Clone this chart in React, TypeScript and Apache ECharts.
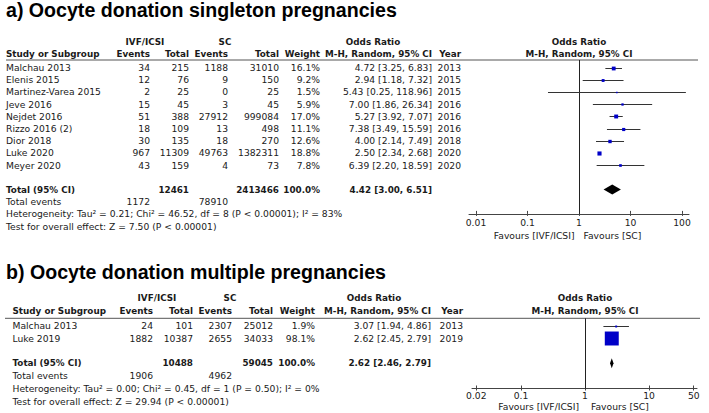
import React, { useEffect, useRef } from "react";
import * as echarts from "echarts";

// ---------- Data: a) singleton pregnancies ----------
const studiesA = ["Malchau 2013", "Elenis 2015", "Martinez-Varea 2015", "Jeve 2016", "Nejdet 2016", "Rizzo 2016 (2)", "Dior 2018", "Luke 2020", "Meyer 2020"];
const ivfEventsA = [34, 12, 2, 15, 51, 18, 30, 967, 43];
const ivfTotalA = [215, 76, 25, 45, 388, 109, 135, 11309, 159];
const scEventsA = [1188, 9, 0, 3, 27912, 13, 18, 49763, 4];
const scTotalA = [31010, 150, 25, 45, 999084, 498, 270, 1382311, 73];
const weightA = [16.1, 9.2, 1.5, 5.9, 17.0, 11.1, 12.6, 18.8, 7.8];
const orA = [4.72, 2.94, 5.43, 7.0, 5.27, 7.38, 4.0, 2.5, 6.39];
const loA = [3.25, 1.18, 0.25, 1.86, 3.92, 3.49, 2.14, 2.34, 2.2];
const hiA = [6.83, 7.32, 118.96, 26.34, 7.07, 15.59, 7.49, 2.68, 18.59];
const yearA = [2013, 2015, 2015, 2016, 2016, 2016, 2018, 2020, 2020];
const totalNA = [12461, 2413466];
const totalEventsA = [1172, 78910];
const pooledA = [4.42, 3.0, 6.51];
const hetA = "Heterogeneity: Tau² = 0.21; Chi² = 46.52, df = 8 (P < 0.00001); I² = 83%";
const testA = "Test for overall effect: Z = 7.50 (P < 0.00001)";
const ticksA = [0.01, 0.1, 1, 10, 100];
const titleA = "a) Oocyte donation singleton pregnancies";

// ---------- Data: b) multiple pregnancies ----------
const studiesB = ["Malchau 2013", "Luke 2019"];
const ivfEventsB = [24, 1882];
const ivfTotalB = [101, 10387];
const scEventsB = [2307, 2655];
const scTotalB = [25012, 34033];
const weightB = [1.9, 98.1];
const orB = [3.07, 2.62];
const loB = [1.94, 2.45];
const hiB = [4.86, 2.79];
const yearB = [2013, 2019];
const totalNB = [10488, 59045];
const totalEventsB = [1906, 4962];
const pooledB = [2.62, 2.46, 2.79];
const hetB = "Heterogeneity: Tau² = 0.00; Chi² = 0.45, df = 1 (P = 0.50); I² = 0%";
const testB = "Test for overall effect: Z = 29.94 (P < 0.00001)";
const ticksB = [0.02, 0.1, 1, 10, 50];
const titleB = "b) Oocyte donation multiple pregnancies";

const groupLabels = ["IVF/ICSI", "SC", "Odds Ratio"];
const colLabels = ["Study or Subgroup", "Events", "Total", "Events", "Total", "Weight", "M-H, Random, 95% CI", "Year"];
const favours = ["Favours [IVF/ICSI]", "Favours [SC]"];

// ---------- Layout (positions / styles only) ----------
const layoutA = {
  titleY: 10,
  head1Y: 42, head2Y: 54, lineY: 60, lineX1: 6, lineX2: 698,
  row0: 67.5, rowH: 12.2, totalRow: 10, eventsRow: 11, hetRow: 12, testRow: 13, axisRow: 12,
  study: 6, ivfE: 150, ivfT: 189, scE: 228, scT: 279, w: 320, or: 432, year: 461,
  ivfHead: 145, scHead: 225, orHead: 373,
  zeroX: 579, decade: 51.5, xMin: -2.136, xMax: 2.136, favY: 235.5, favGap: 4.5,
  sq: 0.95, diamondH: 10, labelMargin: 4,
};
const layoutB = {
  titleY: 272,
  head1Y: 298, head2Y: 311, lineY: 318.3, lineX1: 5, lineX2: 700,
  row0: 325.5, rowH: 12.6, totalRow: 3, eventsRow: 4, hetRow: 5, testRow: 6, axisRow: 5,
  study: 12.5, ivfE: 153, ivfT: 193, scE: 232, scT: 273, w: 315, or: 431, year: 463,
  ivfHead: 157, scHead: 230, orHead: 374,
  zeroX: 585, decade: 64, xMin: -1.766, xMax: 1.75, favY: 406.5, favGap: 6,
  sq: 1.41, diamondH: 10, labelMargin: 2,
};

const FF = '"DejaVu Sans", "Verdana", sans-serif';
const REG = 9.2;
const BOLD = 8.8;
const TXT = "#1a1a1a";
const BLUE = "#0000c8";

function txt(x: number, y: number, text: string, align = "left", bold = false) {
  return {
    type: "text",
    x,
    y,
    silent: true,
    style: {
      text,
      fill: TXT,
      font: `${bold ? "bold " : ""}${bold ? BOLD : REG}px ${FF}`,
      align,
      verticalAlign: "middle",
    },
  };
}

function panelGraphics(L: any, d: any) {
  const els: any[] = [];
  const ry = (r: number) => L.row0 + r * L.rowH;
  els.push({
    type: "text",
    x: 6,
    y: L.titleY,
    silent: true,
    style: { text: d.title, fill: "#000", font: 'bold 19.6px "Liberation Sans", Arial, sans-serif', align: "left", verticalAlign: "middle" },
  });
  // headers
  els.push(txt(L.ivfHead, L.head1Y, groupLabels[0], "center", true));
  els.push(txt(L.scHead, L.head1Y, groupLabels[1], "center", true));
  els.push(txt(L.orHead, L.head1Y, groupLabels[2], "center", true));
  els.push(txt(L.zeroX, L.head1Y, groupLabels[2], "center", true));
  els.push(txt(L.study, L.head2Y, colLabels[0], "left", true));
  els.push(txt(L.ivfE, L.head2Y, colLabels[1], "right", true));
  els.push(txt(L.ivfT, L.head2Y, colLabels[2], "right", true));
  els.push(txt(L.scE, L.head2Y, colLabels[3], "right", true));
  els.push(txt(L.scT, L.head2Y, colLabels[4], "right", true));
  els.push(txt(L.w, L.head2Y, colLabels[5], "right", true));
  els.push(txt(L.or, L.head2Y, colLabels[6], "right", true));
  els.push(txt(L.year, L.head2Y, colLabels[7], "right", true));
  els.push(txt(L.zeroX, L.head2Y, colLabels[6], "center", true));
  els.push({
    type: "line",
    silent: true,
    shape: { x1: L.lineX1, y1: L.lineY, x2: L.lineX2, y2: L.lineY },
    style: { stroke: "#555", lineWidth: 1 },
  });
  // study rows
  d.studies.forEach((s: string, i: number) => {
    const y = ry(i);
    els.push(txt(L.study, y, s, "left"));
    els.push(txt(L.ivfE, y, String(d.ivfE[i]), "right"));
    els.push(txt(L.ivfT, y, String(d.ivfT[i]), "right"));
    els.push(txt(L.scE, y, String(d.scE[i]), "right"));
    els.push(txt(L.scT, y, String(d.scT[i]), "right"));
    els.push(txt(L.w, y, d.w[i].toFixed(1) + "%", "right"));
    els.push(txt(L.or, y, `${d.or[i].toFixed(2)} [${d.lo[i].toFixed(2)}, ${d.hi[i].toFixed(2)}]`, "right"));
    els.push(txt(L.year, y, String(d.year[i]), "right"));
  });
  // totals
  const ty = ry(L.totalRow);
  const wSum = d.w.reduce((a: number, b: number) => a + b, 0);
  els.push(txt(L.study, ty, "Total (95% CI)", "left", true));
  els.push(txt(L.ivfT, ty, String(d.totalN[0]), "right", true));
  els.push(txt(L.scT, ty, String(d.totalN[1]), "right", true));
  els.push(txt(L.w, ty, (Math.round(wSum / 10) * 10).toFixed(1) + "%", "right", true));
  els.push(txt(L.or, ty, `${d.pooled[0].toFixed(2)} [${d.pooled[1].toFixed(2)}, ${d.pooled[2].toFixed(2)}]`, "right", true));
  const ey = ry(L.eventsRow);
  els.push(txt(L.study, ey, "Total events", "left"));
  els.push(txt(L.ivfE, ey, String(d.totalEv[0]), "right"));
  els.push(txt(L.scE, ey, String(d.totalEv[1]), "right"));
  els.push(txt(L.study, ry(L.hetRow), d.het, "left"));
  els.push(txt(L.study, ry(L.testRow), d.test, "left"));
  // favours
  els.push(txt(L.zeroX - L.favGap, L.favY, favours[0], "right"));
  els.push(txt(L.zeroX + L.favGap, L.favY, favours[1], "left"));
  return els;
}

function panelAxes(idx: number, L: any, ticks: number[]) {
  const logT = ticks.map((t) => Math.log10(t));
  const fmt = (v: number) => {
    const i = logT.findIndex((t) => Math.abs(t - v) < 1e-6);
    return i >= 0 ? String(ticks[i]) : "";
  };
  const grid = {
    left: L.zeroX + L.xMin * L.decade,
    width: (L.xMax - L.xMin) * L.decade,
    top: L.row0 - L.rowH,
    height: (L.axisRow + 1) * L.rowH,
    outerBoundsMode: "none",
    containLabel: false,
  };
  const main = {
    type: "value",
    gridIndex: idx,
    min: L.xMin,
    max: L.xMax,
    position: "bottom",
    axisLine: { show: true, onZero: false, lineStyle: { color: "#444", width: 1 } },
    axisTick: { show: true, customValues: logT, length: 2, lineStyle: { color: "#444", width: 1 } },
    axisLabel: { show: true, customValues: logT, formatter: fmt, margin: L.labelMargin, color: TXT, fontSize: REG, fontFamily: FF },
    splitLine: { show: false },
  };
  const inner = {
    type: "value",
    gridIndex: idx,
    min: L.xMin,
    max: L.xMax,
    position: "bottom",
    axisLine: { show: false, onZero: false },
    axisTick: { show: true, inside: true, customValues: logT, length: 3, lineStyle: { color: "#444", width: 1 } },
    axisLabel: { show: false },
    splitLine: { show: false },
  };
  const y = {
    type: "value",
    gridIndex: idx,
    inverse: true,
    min: -1,
    max: L.axisRow,
    show: false,
    splitLine: { show: false },
  };
  return { grid, xs: [main, inner], y };
}

function panelSeries(idx: number, L: any, d: any) {
  const lg = Math.log10;
  const xi = idx * 2;
  const yi = idx;
  const studyData = d.or.map((v: number, i: number) => [lg(v), lg(d.lo[i]), lg(d.hi[i]), i, d.w[i]]);
  return [
    {
      type: "custom",
      xAxisIndex: xi,
      yAxisIndex: yi,
      silent: true,
      encode: { x: 0, y: [1, 2] },
      data: [[0, (L.lineY - L.row0) / L.rowH, L.axisRow]],
      renderItem: (_p: any, api: any) => {
        const a = api.coord([api.value(0), api.value(1)]);
        const b = api.coord([api.value(0), api.value(2)]);
        const x = Math.round(a[0]) + 0.5;
        return { type: "line", shape: { x1: x, y1: a[1], x2: x, y2: b[1] }, style: { stroke: "#222", lineWidth: 1 } };
      },
    },
    {
      type: "custom",
      xAxisIndex: xi,
      yAxisIndex: yi,
      silent: true,
      encode: { x: [0, 1, 2], y: 3 },
      data: studyData,
      renderItem: (_p: any, api: any) => {
        const row = api.value(3);
        const pL = api.coord([api.value(1), row]);
        const pH = api.coord([api.value(2), row]);
        const pE = api.coord([api.value(0), row]);
        const s = Math.max(1.5, L.sq * Math.sqrt(api.value(4)));
        const y = Math.round(pE[1]) + 0.5;
        return {
          type: "group",
          children: [
            { type: "line", shape: { x1: pL[0], y1: y, x2: pH[0], y2: y }, style: { stroke: "#333", lineWidth: 1 } },
            { type: "rect", shape: { x: pE[0] - s / 2, y: y - s / 2, width: s, height: s }, style: { fill: BLUE } },
          ],
        };
      },
    },
    {
      type: "custom",
      xAxisIndex: xi,
      yAxisIndex: yi,
      silent: true,
      encode: { x: [0, 1, 2], y: 3 },
      data: [[lg(d.pooled[0]), lg(d.pooled[1]), lg(d.pooled[2]), L.totalRow]],
      renderItem: (_p: any, api: any) => {
        const row = api.value(3);
        const pL = api.coord([api.value(1), row]);
        const pH = api.coord([api.value(2), row]);
        const pE = api.coord([api.value(0), row]);
        const h = L.diamondH / 2;
        return {
          type: "polygon",
          shape: { points: [[pL[0], pE[1]], [pE[0], pE[1] - h], [pH[0], pE[1]], [pE[0], pE[1] + h]] },
          style: { fill: "#000" },
        };
      },
    },
  ];
}

export default function App() {
  const ref = useRef<HTMLDivElement>(null);
  useEffect(() => {
    if (!ref.current) return;
    const chart = echarts.init(ref.current, undefined, { renderer: "svg" });
    const dA = {
      title: titleA, studies: studiesA, ivfE: ivfEventsA, ivfT: ivfTotalA, scE: scEventsA, scT: scTotalA,
      w: weightA, or: orA, lo: loA, hi: hiA, year: yearA, totalN: totalNA, totalEv: totalEventsA,
      pooled: pooledA, het: hetA, test: testA,
    };
    const dB = {
      title: titleB, studies: studiesB, ivfE: ivfEventsB, ivfT: ivfTotalB, scE: scEventsB, scT: scTotalB,
      w: weightB, or: orB, lo: loB, hi: hiB, year: yearB, totalN: totalNB, totalEv: totalEventsB,
      pooled: pooledB, het: hetB, test: testB,
    };
    const axA = panelAxes(0, layoutA, ticksA);
    const axB = panelAxes(1, layoutB, ticksB);
    chart.setOption({
      animation: false,
      backgroundColor: "#fff",
      grid: [axA.grid, axB.grid],
      xAxis: [...axA.xs, ...axB.xs],
      yAxis: [axA.y, axB.y],
      series: [...panelSeries(0, layoutA, dA), ...panelSeries(1, layoutB, dB)],
      graphic: { elements: [...panelGraphics(layoutA, dA), ...panelGraphics(layoutB, dB)] },
    });
    return () => chart.dispose();
  }, []);
  return (
    <div
      ref={ref}
      style={{ position: "absolute", left: 0, top: 0, width: 709, height: 413, background: "#fff" }}
    />
  );
}
